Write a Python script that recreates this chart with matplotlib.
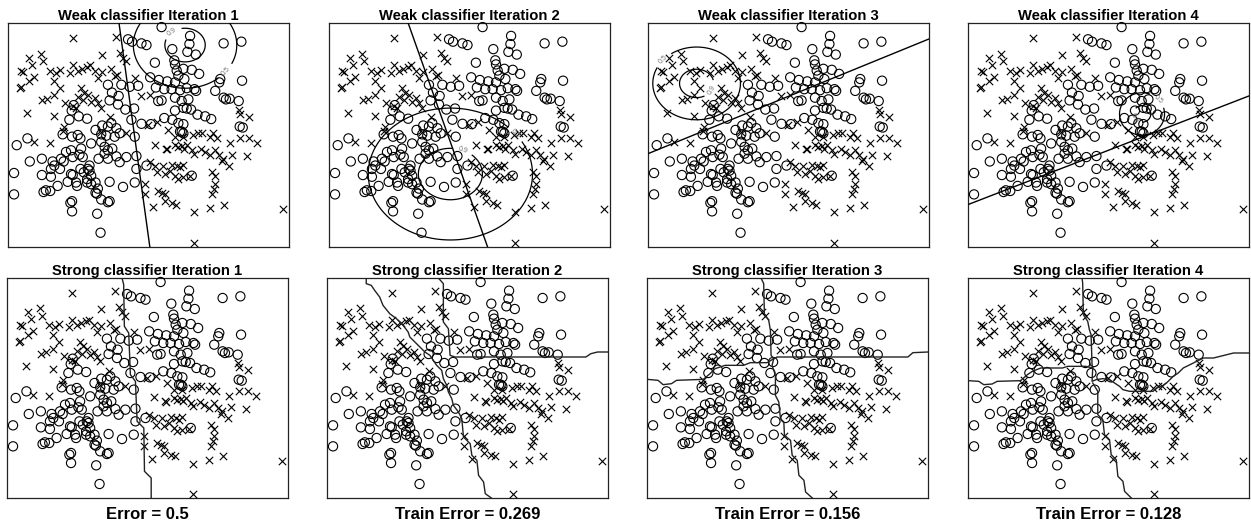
import numpy as np
import matplotlib.pyplot as plt

plt.rcParams['font.family'] = ['Liberation Sans', 'DejaVu Sans']

# training points (feature units, y grows downward)
circles = [
    (480, 82), (380, 118), (392, 125), (420, 130), (435, 135), (565, 108), (563, 132),
    (665, 130), (718, 125), (512, 147), (557, 155), (582, 163), (460, 187), (518, 180),
    (520, 192), (525, 210), (545, 205), (570, 208), (592, 220), (530, 225), (548, 235),
    (446, 230), (472, 238), (497, 242), (520, 245), (655, 235), (652, 245), (720, 240),
    (360, 252), (385, 258), (410, 255), (463, 260), (488, 265), (510, 265), (535, 268),
    (555, 262), (578, 265), (583, 270), (640, 270), (320, 252), (332, 275), (352, 285),
    (325, 298), (470, 300), (480, 298), (520, 290), (540, 300), (560, 295), (665, 290),
    (672, 295), (683, 293), (710, 300), (212, 328), (218, 312), (233, 345), (258, 352),
    (205, 355), (350, 310), (372, 325), (398, 322), (330, 365), (520, 328), (545, 320),
    (555, 322), (568, 325), (587, 340), (610, 345), (628, 353), (488, 350), (512, 355),
    (530, 365), (545, 368), (420, 367), (448, 368), (390, 355), (185, 398), (213, 405),
    (230, 400), (238, 410), (303, 372), (320, 375), (345, 380), (355, 395), (340, 405),
    (315, 402), (300, 398), (283, 385), (400, 405), (540, 390), (545, 395), (713, 375),
    (722, 378), (80, 410), (48, 430), (210, 445), (240, 440), (235, 458), (270, 425),
    (300, 420), (310, 435), (320, 445), (333, 440), (310, 455), (195, 450), (215, 465),
    (245, 465), (405, 462), (87, 478), (123, 470), (155, 478), (160, 490), (180, 470),
    (188, 478), (177, 500), (150, 500), (265, 490), (260, 500), (292, 470), (320, 470),
    (345, 463), (355, 480), (375, 465), (40, 512), (123, 518), (150, 523), (210, 515),
    (215, 518), (238, 500), (248, 510), (265, 505), (270, 520), (258, 530), (405, 500),
    (435, 490), (570, 520), (200, 538), (225, 540), (258, 540), (270, 545), (283, 540),
    (228, 550), (290, 558), (170, 550), (135, 563), (128, 568), (148, 565), (40, 575),
    (325, 538), (365, 553), (400, 540), (283, 570), (287, 573), (213, 595), (208, 600),
    (300, 590), (325, 595), (320, 598), (213, 625), (288, 632), (298, 688), (535, 390),
]
crosses = [
    (217, 115), (345, 110), (303, 163), (355, 157), (365, 172), (373, 183), (120, 160),
    (85, 172), (125, 183), (95, 193), (62, 210), (68, 215), (99, 228), (85, 242),
    (60, 258), (57, 262), (148, 212), (165, 218), (178, 208), (160, 242), (208, 218),
    (215, 195), (230, 212), (243, 205), (258, 200), (268, 195), (280, 210), (290, 232),
    (303, 215), (330, 205), (340, 225), (348, 222), (400, 232), (178, 262), (240, 262),
    (250, 275), (232, 288), (245, 298), (262, 283), (282, 292), (270, 302), (122, 297),
    (138, 293), (160, 283), (193, 305), (420, 285), (445, 283), (78, 335), (158, 343),
    (215, 315), (225, 320), (298, 320), (290, 307), (325, 348), (712, 325), (715, 338),
    (740, 347), (440, 370), (465, 363), (190, 375), (185, 388), (298, 390), (375, 395),
    (500, 385), (520, 405), (545, 405), (575, 400), (588, 395), (600, 395), (625, 405),
    (645, 410), (633, 395), (715, 410), (740, 410), (765, 425), (100, 420), (148, 423),
    (460, 428), (492, 440), (497, 442), (520, 430), (530, 436), (540, 432), (547, 440),
    (557, 430), (570, 445), (578, 455), (598, 442), (610, 450), (625, 460), (640, 445),
    (652, 460), (662, 470), (685, 425), (690, 458), (735, 462), (445, 480), (460, 490),
    (465, 510), (485, 490), (510, 488), (525, 490), (535, 495), (545, 488), (505, 505),
    (520, 520), (530, 530), (545, 525), (565, 522), (490, 515), (630, 510), (640, 522),
    (680, 490), (660, 478), (432, 545), (432, 575), (470, 565), (480, 570), (490, 575),
    (640, 545), (635, 560), (630, 575), (490, 595), (510, 600), (522, 605), (455, 612),
    (578, 628), (625, 615), (665, 605), (843, 618), (578, 718),
]
xlim = (22, 860)
ylim = (730, 70)

# weak classifiers: separating line + density contours
weak_line_x = [[353, 445], [258, 495], [22, 865], [22, 865]]
weak_line_y = [[70, 730], [70, 730], [455, 115], [605, 283]]
weak_center = [(550, 135), (384, 515), (167, 248), (541, 338)]
weak_scale = [(131, 108), (208, 165), (111, 91), (57, 53)]
levels = [0.5, 0.9]

# strong classifier decision boundaries (traced)
strong_paths = [
    [[(365, 70), (370, 90), (372, 215), (385, 235), (390, 360), (405, 380), (410, 500),
      (430, 520), (432, 650), (452, 670), (452, 730)]],
    [[(139, 70), (139, 87), (154, 92), (164, 107), (179, 127), (189, 152), (209, 177),
      (229, 192), (249, 212), (264, 232), (269, 247), (284, 262), (299, 277), (314, 292),
      (329, 302), (339, 317), (349, 332), (364, 347), (369, 372), (379, 392), (384, 412),
      (394, 432), (399, 452), (414, 472), (424, 492), (429, 547), (449, 567), (454, 602),
      (469, 617), (474, 662), (489, 682), (494, 717), (512, 730)],
     [(354, 70), (369, 87), (369, 202), (384, 222), (389, 302), (404, 307), (794, 307),
      (809, 297), (829, 292), (860, 292)]],
    [[(362, 70), (370, 87), (372, 177), (385, 197), (390, 227), (392, 302), (400, 312)],
     [(400, 312), (410, 307), (800, 307), (815, 294), (860, 292)],
     [(22, 374), (55, 377), (70, 390), (95, 387), (110, 377), (190, 374), (210, 357),
      (225, 342), (255, 332), (310, 332), (330, 324), (380, 324), (400, 312)],
     [(400, 312), (395, 332), (405, 362), (405, 422), (415, 442), (420, 492), (430, 502),
      (432, 542), (450, 557), (455, 602), (470, 617), (475, 662), (490, 677), (495, 712),
      (515, 730)]],
    [[(362, 70), (364, 85), (366, 180), (379, 200), (384, 225), (389, 240), (392, 330),
      (394, 340)],
     [(22, 378), (54, 380), (69, 390), (94, 388), (109, 380), (179, 378), (199, 360),
      (214, 350), (239, 340), (304, 340), (319, 335), (374, 335), (394, 340)],
     [(394, 340), (392, 380), (404, 375), (424, 372), (444, 375), (459, 385), (474, 395),
      (484, 405), (504, 410), (574, 410), (584, 400), (599, 395), (614, 385), (634, 365),
      (649, 355), (664, 340), (684, 330), (704, 320), (724, 310), (754, 310), (774, 305),
      (794, 300), (814, 295), (860, 295)],
     [(394, 385), (409, 410), (409, 480), (424, 495), (429, 540), (444, 555), (449, 600),
      (464, 615), (469, 665), (484, 680), (489, 710), (509, 730)]],
]
errors = ["Error = 0.5", "Train Error = 0.269", "Train Error = 0.156", "Train Error = 0.128"]

circles = np.array(circles)
crosses = np.array(crosses)

W, H = 1251, 525
fig = plt.figure(figsize=(W / 100, H / 100), dpi=100)
top_left = [8, 329, 648, 968]
bot_left = [7, 327, 647, 968]


def draw_points(ax):
    ax.scatter(circles[:, 0], circles[:, 1], s=44, facecolors='none', edgecolors='k',
               linewidths=0.8, clip_on=False, zorder=3)
    ax.scatter(crosses[:, 0], crosses[:, 1], s=28, marker='x', c='k',
               linewidths=0.8, clip_on=False, zorder=3)
    ax.set_xlim(*xlim)
    ax.set_ylim(*ylim)
    ax.set_xticks([])
    ax.set_yticks([])
    for sp in ax.spines.values():
        sp.set_linewidth(0.9)
        sp.set_color('#222222')


gx = np.linspace(xlim[0], xlim[1], 300)
gy = np.linspace(ylim[1], ylim[0], 300)
GX, GY = np.meshgrid(gx, gy)

for i in range(4):
    ax = fig.add_axes([top_left[i] / W, 1 - 247 / H, 281 / W, 224 / H])
    draw_points(ax)
    ax.plot(weak_line_x[i], weak_line_y[i], color='k', lw=1.0, zorder=4)
    cx, cy = weak_center[i]
    sx, sy = weak_scale[i]
    Z = np.exp(-0.5 * (((GX - cx) / sx) ** 2 + ((GY - cy) / sy) ** 2))
    cs = ax.contour(GX, GY, Z, levels=levels, colors='k', linewidths=0.9, zorder=4)
    ax.clabel(cs, inline=True, fontsize=5, fmt='%g', colors='0.45')
    ax.set_title("Weak classifier Iteration %d" % (i + 1), fontsize=10.6,
                 fontweight='bold', pad=1.5)

for i in range(4):
    ax = fig.add_axes([bot_left[i] / W, 1 - 498 / H, 281 / W, 220 / H])
    draw_points(ax)
    for path in strong_paths[i]:
        p = np.array(path)
        ax.plot(p[:, 0], p[:, 1], color='#222222', lw=1.0, zorder=4)
    ax.set_title("Strong classifier Iteration %d" % (i + 1), fontsize=10.6,
                 fontweight='bold', pad=1.5)
    ax.text(0.5, -0.04, errors[i], transform=ax.transAxes, ha='center', va='top',
            fontsize=12, fontweight='bold')

fig.savefig("out.png", dpi=100)
